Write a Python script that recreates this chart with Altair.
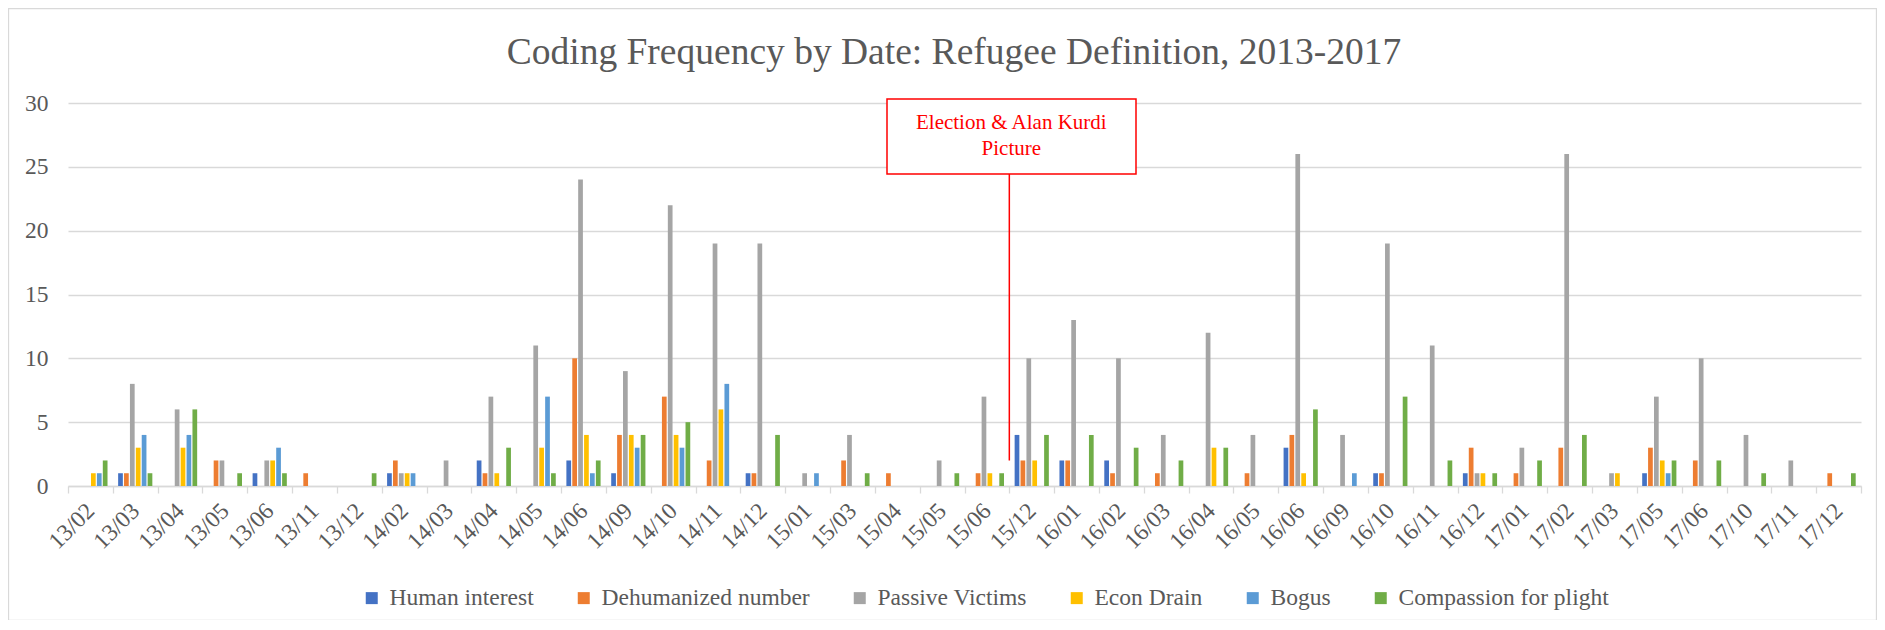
import altair as alt
import pandas as pd

dates = ["13/02", "13/03", "13/04", "13/05", "13/06", "13/11", "13/12", "14/02", "14/03", "14/04",
         "14/05", "14/06", "14/09", "14/10", "14/11", "14/12", "15/01", "15/03", "15/04", "15/05",
         "15/06", "15/12", "16/01", "16/02", "16/03", "16/04", "16/05", "16/06", "16/09", "16/10",
         "16/11", "16/12", "17/01", "17/02", "17/03", "17/05", "17/06", "17/10", "17/11", "17/12"]

series = ["Human interest", "Dehumanized number", "Passive Victims", "Econ Drain", "Bogus",
          "Compassion for plight"]
colors = ["#4472C4", "#ED7D31", "#A5A5A5", "#FFC000", "#5B9BD5", "#70AD47"]

human_interest = [0, 1, 0, 0, 1, 0, 0, 1, 0, 2, 0, 2, 1, 0, 0, 1, 0, 0, 0, 0,
                  0, 4, 2, 2, 0, 0, 0, 3, 0, 1, 0, 1, 0, 0, 0, 1, 0, 0, 0, 0]
dehumanized = [0, 1, 0, 2, 0, 1, 0, 2, 0, 1, 0, 10, 4, 7, 2, 1, 0, 2, 1, 0,
               1, 2, 2, 1, 1, 0, 1, 4, 0, 1, 0, 3, 1, 3, 0, 3, 2, 0, 0, 1]
passive_victims = [0, 8, 6, 2, 2, 0, 0, 1, 2, 7, 11, 24, 9, 22, 19, 19, 1, 4, 0, 2,
                   7, 10, 13, 10, 4, 12, 4, 26, 4, 19, 11, 1, 3, 26, 1, 7, 10, 4, 2, 0]
econ_drain = [1, 3, 3, 0, 2, 0, 0, 1, 0, 1, 3, 4, 4, 4, 6, 0, 0, 0, 0, 0,
              1, 2, 0, 0, 0, 3, 0, 1, 0, 0, 0, 1, 0, 0, 1, 2, 0, 0, 0, 0]
bogus = [1, 4, 4, 0, 3, 0, 0, 1, 0, 0, 7, 1, 3, 3, 8, 0, 1, 0, 0, 0,
         0, 0, 0, 0, 0, 0, 0, 0, 1, 0, 0, 0, 0, 0, 0, 1, 0, 0, 0, 0]
compassion = [2, 1, 6, 1, 1, 0, 1, 0, 0, 3, 1, 2, 4, 5, 0, 4, 0, 1, 0, 1,
              1, 4, 4, 3, 2, 3, 0, 6, 0, 7, 2, 1, 2, 4, 0, 2, 2, 1, 0, 1]

y_ticks = [0, 5, 10, 15, 20, 25, 30]

title_text = "Coding Frequency by Date: Refugee Definition, 2013-2017"
note_lines = ["Election & Alan Kurdi", "Picture"]
note_date = "15/12"
note_value = 2

rows = []
for name, vals in zip(series, [human_interest, dehumanized, passive_victims, econ_drain, bogus, compassion]):
    for d, v in zip(dates, vals):
        rows.append({"date": d, "series": name, "value": v})
df = pd.DataFrame(rows)

note_df = pd.DataFrame({"date": [note_date], "value": [note_value]})
dummy = pd.DataFrame({"a": [0]})

W, H = 1793, 383
FONT = "Liberation Serif"
FS = 23.5
GRAY = "#595959"
LINE = "#D9D9D9"

x_enc = alt.X(
    "date:N", sort=dates,
    scale=alt.Scale(paddingInner=0, paddingOuter=0),
    axis=alt.Axis(title=None, labelAngle=-45, labelAlign="right", labelBaseline="middle",
                  tickBand="extent", tickSize=7, tickColor=LINE, tickWidth=1.3,
                  domainColor=LINE, domainWidth=1.3, labelFont=FONT, labelFontSize=FS,
                  labelColor=GRAY, labelPadding=14, grid=False),
)

border = alt.Chart(dummy).mark_rect(fill="transparent", stroke=LINE, strokeWidth=1.3).encode(
    x=alt.value(-59.5), x2=alt.value(W + 15.5), y=alt.value(-94.5), y2=alt.value(H + 134.5)
)

bars = alt.Chart(df).mark_bar().encode(
    x=x_enc,
    xOffset=alt.XOffset("series:N", sort=series, scale=alt.Scale(paddingInner=0.2, paddingOuter=0.9)),
    y=alt.Y("value:Q", scale=alt.Scale(domain=[0, 30], nice=False),
            axis=alt.Axis(title=None, values=y_ticks, grid=True, gridColor=LINE, gridWidth=1.3,
                          domain=False, ticks=False, tickSize=0, labelFont=FONT, labelFontSize=FS,
                          labelColor=GRAY, labelPadding=20)),
    color=alt.Color("series:N", sort=series, scale=alt.Scale(domain=series, range=colors),
                    legend=alt.Legend(title=None, orient="none", direction="horizontal",
                                      legendX=292, legendY=483, padding=0,
                                      symbolType="square", symbolSize=144, symbolStrokeWidth=0,
                                      symbolOpacity=1, labelFont=FONT, labelFontSize=FS,
                                      labelColor=GRAY, labelLimit=400, labelOffset=6,
                                      columnPadding=38)),
)

box = alt.Chart(dummy).mark_rect(fill="white", stroke="#FF0000", strokeWidth=1.5).encode(
    x=alt.value(819), x2=alt.value(1068), y=alt.value(-4), y2=alt.value(71)
)

rule = alt.Chart(note_df).mark_rule(color="#FF0000", strokeWidth=1.5).encode(
    x=alt.X("date:N", sort=dates, bandPosition=0),
    y=alt.Y("value:Q"),
    y2=alt.value(71),
)

note = alt.Chart(note_df).mark_text(font=FONT, fontSize=21, color="#FF0000", align="center",
                                    baseline="alphabetic", lineHeight=26, dx=2).encode(
    x=alt.X("date:N", sort=dates, bandPosition=0),
    y=alt.value(26),
    text=alt.value(note_lines),
)

chart = alt.layer(border, bars, box, rule, note).properties(
    width=W, height=H,
    title=alt.TitleParams(text=title_text, font=FONT, fontSize=37.5, fontWeight="normal",
                          color=GRAY, anchor="middle", dx=-10.5, offset=-94, baseline="alphabetic"),
    padding={"left": 60, "top": 95, "right": 16, "bottom": 134},
    autosize=alt.AutoSizeParams(type="none"),
).configure_view(stroke=None)

chart.save("out.html", embed_options={"renderer": "svg", "actions": False})
